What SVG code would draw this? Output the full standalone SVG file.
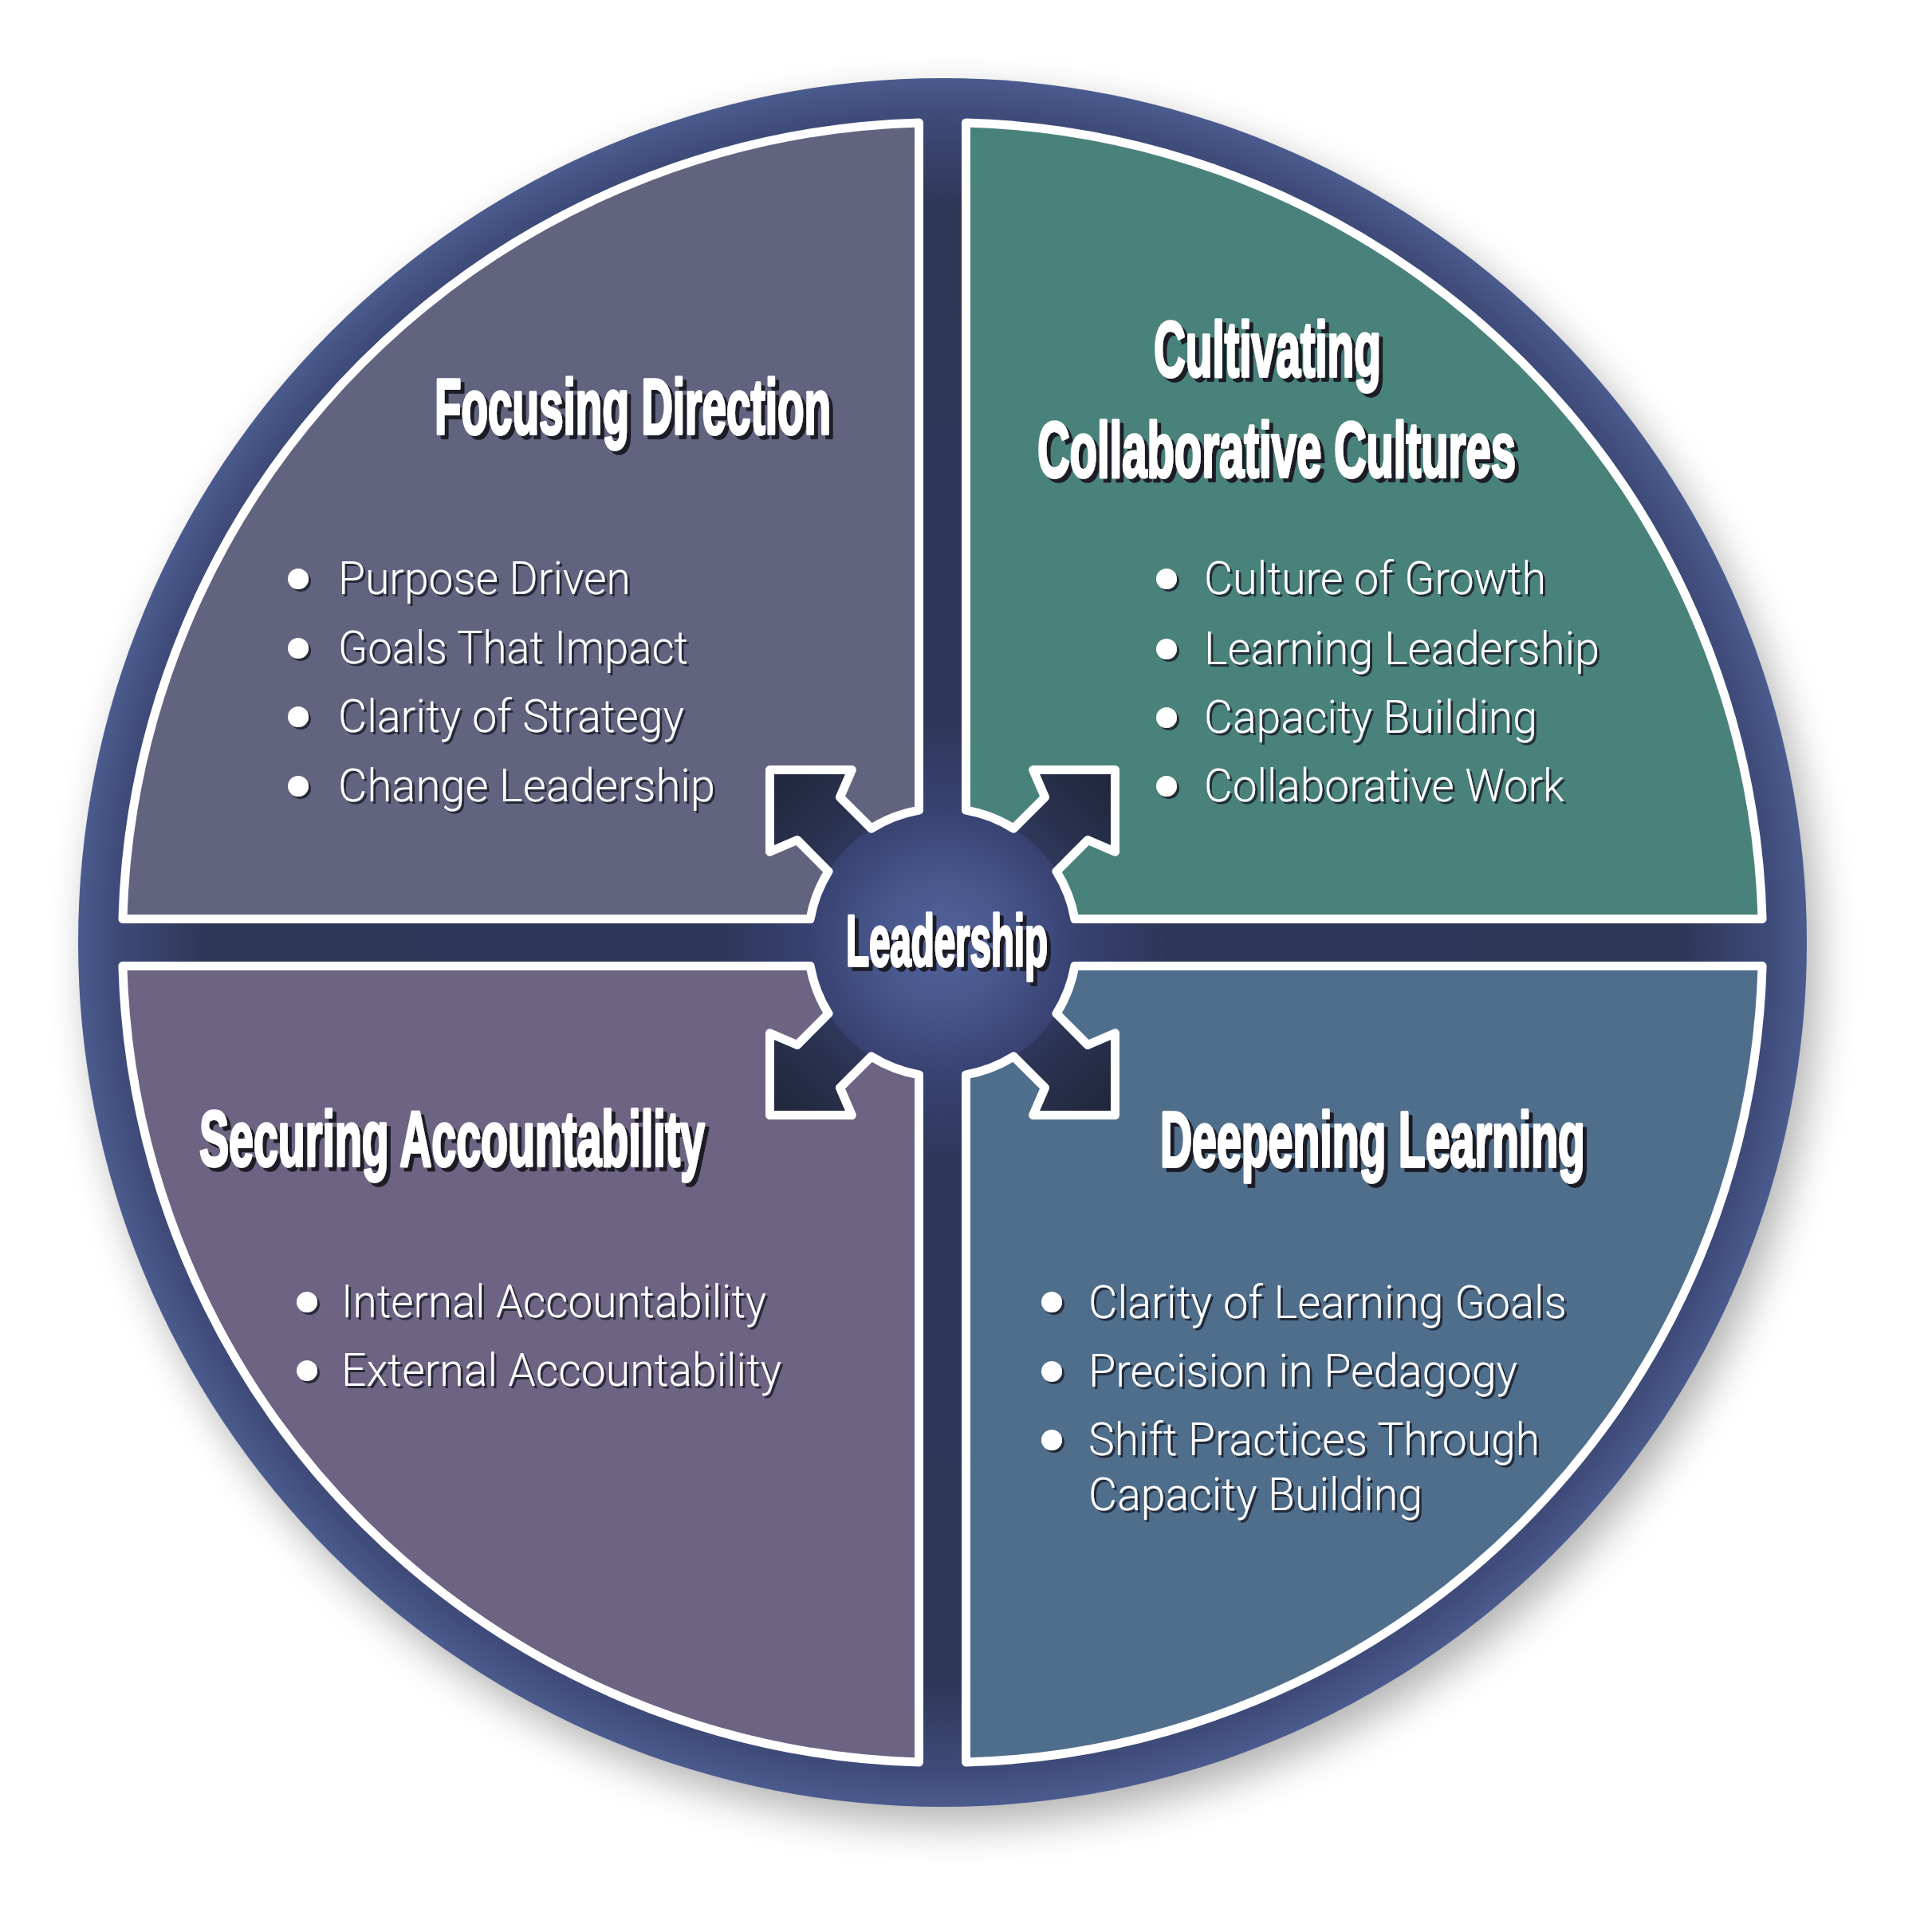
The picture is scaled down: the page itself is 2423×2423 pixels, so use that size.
<svg xmlns="http://www.w3.org/2000/svg" xmlns:xlink="http://www.w3.org/1999/xlink" width="2423" height="2423" viewBox="0 0 2423 2423">
<defs>
<style>
.hd{font-family:"Liberation Sans",Arial,sans-serif;font-weight:700;font-size:98px;fill:#fff;stroke:#fff;stroke-width:3.5;stroke-linejoin:round;filter:url(#hsh)}
.ld{font-size:91px}
.bl{font-family:Roboto,"Liberation Sans",Arial,sans-serif;font-weight:300;font-size:58px;fill:#fff;filter:url(#bsh)}
.dot{fill:#fff;filter:url(#bsh)}
.quad{stroke:#fff;stroke-width:11;stroke-linejoin:round}
</style>
<filter id="hsh" x="-5%" y="-20%" width="115%" height="150%">
<feFlood flood-color="#1b1c28" result="c"/>
<feComposite in="c" in2="SourceAlpha" operator="in" result="s"/>
<feOffset in="s" dx="5" dy="5" result="o"/>
<feMerge><feMergeNode in="o"/><feMergeNode in="SourceGraphic"/></feMerge>
</filter>
<filter id="bsh" x="-10%" y="-20%" width="125%" height="150%">
<feFlood flood-color="#1e2230" flood-opacity="0.9" result="c"/>
<feComposite in="c" in2="SourceAlpha" operator="in" result="s"/>
<feOffset in="s" dx="3" dy="3" result="o"/>
<feMerge><feMergeNode in="o"/><feMergeNode in="SourceGraphic"/></feMerge>
</filter>
<filter id="blur" x="-10%" y="-10%" width="120%" height="120%">
<feGaussianBlur stdDeviation="26"/>
</filter>
<radialGradient id="bg" cx="1182" cy="1182" r="1084" gradientUnits="userSpaceOnUse">
<stop offset="0" stop-color="#53639a"/>
<stop offset="0.08" stop-color="#47558a"/>
<stop offset="0.16" stop-color="#374170"/>
<stop offset="0.26" stop-color="#2e3658"/>
<stop offset="0.85" stop-color="#2e3656"/>
<stop offset="0.955" stop-color="#3e4a78"/>
<stop offset="1" stop-color="#4b5b8d"/>
</radialGradient>
<linearGradient id="ag" x1="0" y1="0" x2="1" y2="1">
<stop offset="0" stop-color="#1f263a"/>
<stop offset="0.6" stop-color="#2a3250"/>
<stop offset="1" stop-color="#36416a"/>
</linearGradient>
<path id="qshape" d="M 1152.5 1016.1 L 1152.5 153.9 A 1028.5 1028.5 0 0 0 153.9 1152.5 L 1016.1 1152.5 A 168.5 168.5 0 0 1 1039.0 1092.8 L 999.8 1053.5 L 965.5 1068.3 L 965.5 965.5 L 1068.3 965.5 L 1053.5 999.8 L 1092.8 1039.0 A 168.5 168.5 0 0 1 1152.5 1016.1 Z"/>
<path id="ashape" d="M 1092.8 1039.0 L 1053.5 999.8 L 1068.3 965.5 L 965.5 965.5 L 965.5 1068.3 L 999.8 1053.5 L 1039.0 1092.8 A 168.5 168.5 0 0 1 1092.8 1039.0 Z"/>
</defs>

<rect width="2423" height="2423" fill="#ffffff"/>

<g id="background">
<circle cx="1196" cy="1204" r="1084" fill="#000" opacity="0.3" filter="url(#blur)"/>
<circle cx="1182" cy="1182" r="1084" fill="url(#bg)"/>
</g>

<g id="connectors" fill="url(#ag)">
<use xlink:href="#ashape"/>
<use xlink:href="#ashape" transform="translate(2364,0) scale(-1,1)"/>
<use xlink:href="#ashape" transform="translate(0,2364) scale(1,-1)"/>
<use xlink:href="#ashape" transform="translate(2364,2364) scale(-1,-1)"/>
</g>

<g id="node-focusing-direction">
<use xlink:href="#qshape" class="quad" fill="#62637e"/>
<text class="hd" x="545" y="544" textLength="497" lengthAdjust="spacingAndGlyphs">Focusing Direction</text>
<circle class="dot" cx="374" cy="726" r="13"/>
<circle class="dot" cx="374" cy="813" r="13"/>
<circle class="dot" cx="374" cy="899" r="13"/>
<circle class="dot" cx="374" cy="986" r="13"/>
<text class="bl" x="424" y="745" textLength="367" lengthAdjust="spacingAndGlyphs">Purpose Driven</text>
<text class="bl" x="424" y="832" textLength="439" lengthAdjust="spacingAndGlyphs">Goals That Impact</text>
<text class="bl" x="424" y="918" textLength="434" lengthAdjust="spacingAndGlyphs">Clarity of Strategy</text>
<text class="bl" x="424" y="1005" textLength="473" lengthAdjust="spacingAndGlyphs">Change Leadership</text>
</g>

<g id="node-cultivating-collaborative-cultures">
<use xlink:href="#qshape" class="quad" fill="#49827a" transform="translate(2364,0) scale(-1,1)"/>
<text class="hd" x="1447" y="472" textLength="285" lengthAdjust="spacingAndGlyphs">Cultivating</text>
<text class="hd" x="1301" y="598" textLength="600" lengthAdjust="spacingAndGlyphs">Collaborative Cultures</text>
<circle class="dot" cx="1463" cy="726" r="13"/>
<circle class="dot" cx="1463" cy="814" r="13"/>
<circle class="dot" cx="1463" cy="900" r="13"/>
<circle class="dot" cx="1463" cy="986" r="13"/>
<text class="bl" x="1510" y="745" textLength="429" lengthAdjust="spacingAndGlyphs">Culture of Growth</text>
<text class="bl" x="1510" y="833" textLength="496" lengthAdjust="spacingAndGlyphs">Learning Leadership</text>
<text class="bl" x="1510" y="919" textLength="418" lengthAdjust="spacingAndGlyphs">Capacity Building</text>
<text class="bl" x="1510" y="1005" textLength="452" lengthAdjust="spacingAndGlyphs">Collaborative Work</text>
</g>

<g id="node-securing-accountability">
<use xlink:href="#qshape" class="quad" fill="#6d6382" transform="translate(0,2364) scale(1,-1)"/>
<text class="hd" x="250" y="1462" textLength="634" lengthAdjust="spacingAndGlyphs">Securing Accountability</text>
<circle class="dot" cx="385" cy="1633" r="13"/>
<circle class="dot" cx="385" cy="1719" r="13"/>
<text class="bl" x="428" y="1652" textLength="533" lengthAdjust="spacingAndGlyphs">Internal Accountability</text>
<text class="bl" x="428" y="1738" textLength="552" lengthAdjust="spacingAndGlyphs">External Accountability</text>
</g>

<g id="node-deepening-learning">
<use xlink:href="#qshape" class="quad" fill="#4f6e8c" transform="translate(2364,2364) scale(-1,-1)"/>
<text class="hd" x="1455" y="1463" textLength="533" lengthAdjust="spacingAndGlyphs">Deepening Learning</text>
<circle class="dot" cx="1319" cy="1633" r="13"/>
<circle class="dot" cx="1319" cy="1720" r="13"/>
<circle class="dot" cx="1319" cy="1806" r="13"/>
<text class="bl" x="1365" y="1653" textLength="600" lengthAdjust="spacingAndGlyphs">Clarity of Learning Goals</text>
<text class="bl" x="1365" y="1739" textLength="538" lengthAdjust="spacingAndGlyphs">Precision in Pedagogy</text>
<text class="bl" x="1365" y="1825" textLength="566" lengthAdjust="spacingAndGlyphs">Shift Practices Through</text>
<text class="bl" x="1365" y="1894" textLength="419" lengthAdjust="spacingAndGlyphs">Capacity Building</text>
</g>

<g id="node-leadership">
<text class="hd ld" x="1061" y="1211" textLength="253" lengthAdjust="spacingAndGlyphs">Leadership</text>
</g>
</svg>
